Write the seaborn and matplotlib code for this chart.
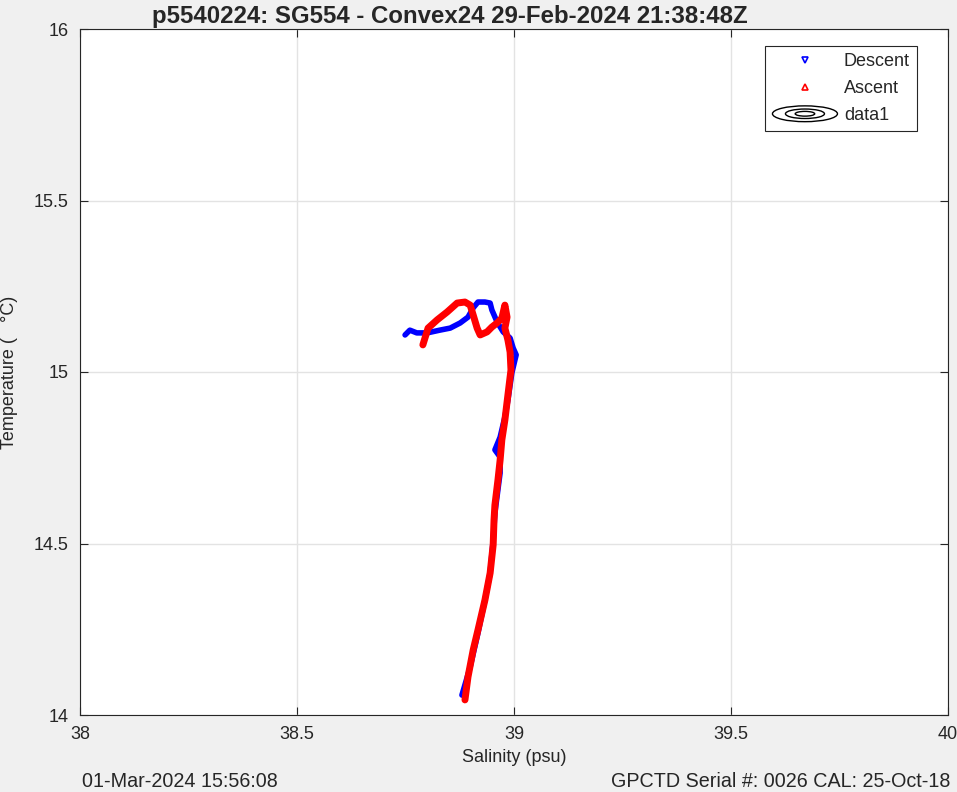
import matplotlib

matplotlib.use("Agg")
import matplotlib.pyplot as plt
import pandas as pd
import seaborn as sns
from matplotlib.legend_handler import HandlerBase
from matplotlib.lines import Line2D
from matplotlib.patches import Ellipse

TITLE = "p5540224: SG554 - Convex24 29-Feb-2024 21:38:48Z"
STAMP_LEFT = "01-Mar-2024 15:56:08"
STAMP_RIGHT = "GPCTD Serial #: 0026 CAL: 25-Oct-18"

# descent: surface -> depth
DESC_SAL = [
    38.749, 38.760, 38.776, 38.800, 38.829, 38.853, 38.876, 38.894, 38.906,
    38.917, 38.933, 38.945, 38.949, 38.961, 38.975, 38.991, 38.998, 39.005,
    38.995, 38.986, 38.979, 38.968, 38.956, 38.968, 38.968, 38.956, 38.952,
    38.945, 38.933, 38.917, 38.899, 38.880,
]
DESC_TEMP = [
    15.108, 15.122, 15.114, 15.114, 15.122, 15.128, 15.143, 15.160, 15.187,
    15.204, 15.204, 15.201, 15.181, 15.146, 15.117, 15.099, 15.070, 15.050,
    14.997, 14.918, 14.869, 14.810, 14.773, 14.752, 14.706, 14.589, 14.510,
    14.414, 14.335, 14.239, 14.140, 14.058,
]

# ascent: depth -> surface
ASC_SAL = [
    38.887, 38.894, 38.906, 38.917, 38.933, 38.945, 38.952, 38.954, 38.956,
    38.963, 38.968, 38.972, 38.979, 38.986, 38.993, 38.991, 38.986, 38.979,
    38.984, 38.979, 38.972, 38.961, 38.949, 38.938, 38.922, 38.915, 38.906,
    38.899, 38.887, 38.869, 38.846, 38.823, 38.802, 38.790,
]
ASC_TEMP = [
    14.044, 14.111, 14.190, 14.248, 14.335, 14.414, 14.496, 14.569, 14.612,
    14.685, 14.743, 14.802, 14.860, 14.933, 15.006, 15.058, 15.093, 15.128,
    15.160, 15.195, 15.157, 15.143, 15.131, 15.117, 15.108, 15.128, 15.166,
    15.195, 15.204, 15.201, 15.175, 15.152, 15.128, 15.079,
]

X_TICKS = [38, 38.5, 39, 39.5, 40]
Y_TICKS = [14, 14.5, 15, 15.5, 16]


class ContourHandler(HandlerBase):
    def create_artists(self, legend, orig_handle, xdescent, ydescent, width, height, fontsize, trans):
        cx = width / 2 - xdescent
        cy = height / 2 - ydescent
        artists = []
        for scale in (1.0, 0.6, 0.3):
            e = Ellipse((cx, cy), width * 1.0 * scale, height * 1.25 * scale,
                        fill=False, edgecolor="black", linewidth=1.0, transform=trans)
            artists.append(e)
        return artists


desc = pd.DataFrame({"sal": DESC_SAL, "temp": DESC_TEMP})
asc = pd.DataFrame({"sal": ASC_SAL, "temp": ASC_TEMP})

sns.set_theme(style="whitegrid")
plt.rcParams["font.family"] = ["Liberation Sans", "DejaVu Sans"]

fig = plt.figure(figsize=(9.57, 7.92), dpi=100, facecolor="#f0f0f0")
ax = fig.add_axes([80 / 957, 77 / 792, 868 / 957, 686 / 792])
ax.set_facecolor("white")

sns.lineplot(data=desc, x="sal", y="temp", sort=False, estimator=None, color="blue",
             linewidth=4, ax=ax, solid_capstyle="round", solid_joinstyle="round")
sns.lineplot(data=asc, x="sal", y="temp", sort=False, estimator=None, color="red",
             linewidth=5, ax=ax, solid_capstyle="round", solid_joinstyle="round")

ax.set_xlim(38, 40)
ax.set_ylim(14, 16)
ax.set_xticks(X_TICKS)
ax.set_yticks(Y_TICKS)
ax.set_xticklabels(["38", "38.5", "39", "39.5", "40"])
ax.set_yticklabels(["14", "14.5", "15", "15.5", "16"])
ax.grid(True, color="#e3e3e3", linewidth=1)
for side in ax.spines.values():
    side.set_color("#262626")
    side.set_linewidth(0.8)
ax.tick_params(direction="in", length=6, width=0.8, color="#262626", labelsize=13,
               labelcolor="#262626", top=True, right=True, bottom=True, left=True, pad=8)

ax.set_xlabel("Salinity (psu)", fontsize=13, color="#262626", labelpad=4)
ax.set_ylabel("Temperature (   °C)", fontsize=13, color="#262626")
ax.yaxis.set_label_coords(-0.071, 0.5)
ax.set_title(TITLE, fontsize=17.3, fontweight="bold", pad=4, x=(450 - 80) / 868)

handles = [
    Line2D([], [], linestyle="none", marker="v", markersize=5, markerfacecolor="none",
           markeredgecolor="blue", markeredgewidth=1.2),
    Line2D([], [], linestyle="none", marker="^", markersize=5, markerfacecolor="none",
           markeredgecolor="red", markeredgewidth=1.2),
    Line2D([], []),
]
labels = ["Descent", "Ascent", "data1"]
leg = ax.legend(handles, labels, loc="upper right", bbox_to_anchor=(917 / 957, 746 / 792),
                bbox_transform=fig.transFigure, fontsize=13, frameon=True, fancybox=False,
                handler_map={handles[2]: ContourHandler()}, handlelength=3.6,
                borderpad=0.4, labelspacing=0.55, handletextpad=0.35, borderaxespad=0)
leg.get_frame().set_edgecolor("#262626")
leg.get_frame().set_linewidth(0.8)
leg.get_frame().set_facecolor("white")
leg.get_frame().set_alpha(1)

fig.text(82 / 957, 1 - 787 / 792, STAMP_LEFT, fontsize=14.2, ha="left", va="baseline")
fig.text(950 / 957, 1 - 787 / 792, STAMP_RIGHT, fontsize=14.2, ha="right", va="baseline")

fig.savefig("out.png", dpi=100, facecolor=fig.get_facecolor())
